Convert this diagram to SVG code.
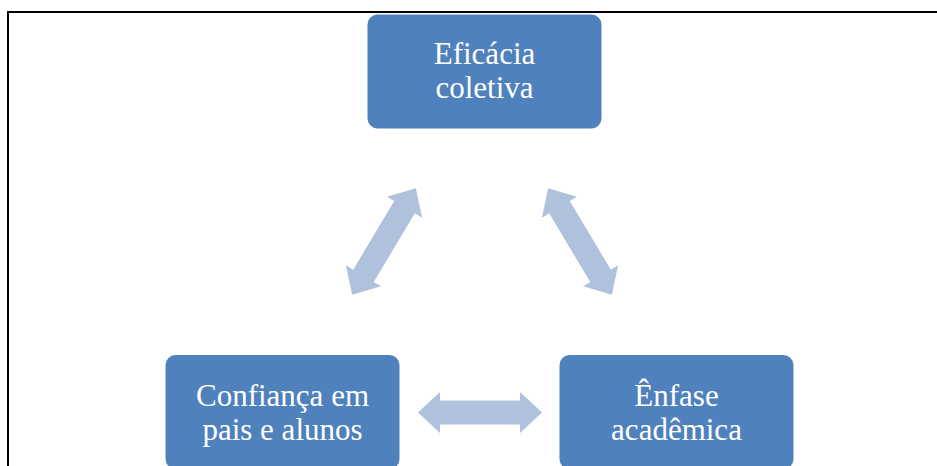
<svg xmlns="http://www.w3.org/2000/svg" width="937" height="466" viewBox="0 0 937 466">
<defs>
<style>
.box{fill:#4f81bd;}
.lbl{fill:#ffffff;font-family:"Liberation Serif","Times New Roman",serif;font-size:31px;text-anchor:middle;}
.arr{fill:#b0c1dc;}
.frame{fill:none;stroke:#000000;stroke-width:2;}
</style>
<path id="dbl" d="M-62,0 L-40,-20.5 L-40,-12 L40,-12 L40,-20.5 L62,0 L40,20.5 L40,12 L-40,12 L-40,20.5 Z"/>
</defs>
<rect width="937" height="466" fill="#ffffff"/>
<path class="frame" d="M8,466 L8,12 L937,12"/>
<g id="connectors">
<use href="#dbl" class="arr" transform="translate(384,241.5) rotate(-59.1)"/>
<use href="#dbl" class="arr" transform="translate(580,241.5) rotate(59.1)"/>
<use href="#dbl" class="arr" transform="translate(480,412.5)"/>
</g>
<g id="eficacia">
<rect class="box" x="367.5" y="14.5" width="234" height="114" rx="10"/>
<text class="lbl" x="484.5" y="64">Eficácia</text>
<text class="lbl" x="484.5" y="98">coletiva</text>
</g>
<g id="confianca">
<rect class="box" x="165.5" y="355" width="234" height="114" rx="10"/>
<text class="lbl" x="282.5" y="406">Confiança em</text>
<text class="lbl" x="282.5" y="440">pais e alunos</text>
</g>
<g id="enfase">
<rect class="box" x="559.5" y="355" width="234" height="114" rx="10"/>
<text class="lbl" x="676.5" y="406">Ênfase</text>
<text class="lbl" x="676.5" y="440">acadêmica</text>
</g>
</svg>
